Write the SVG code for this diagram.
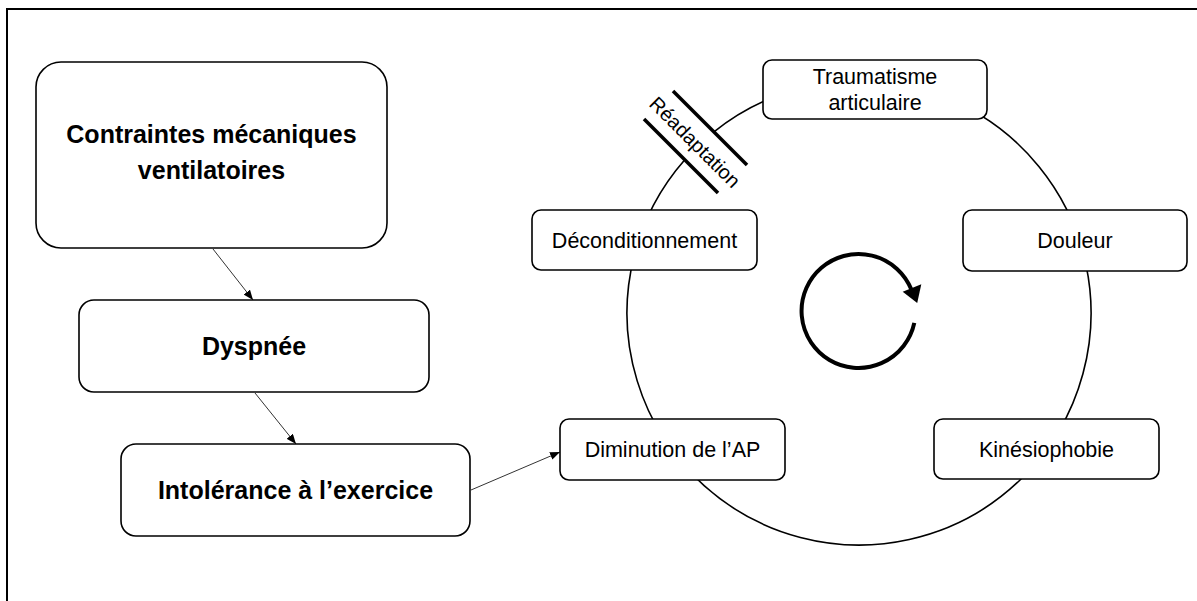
<svg xmlns="http://www.w3.org/2000/svg" width="1197" height="601" viewBox="0 0 1197 601">
<style>
.box{fill:#fff;stroke:#000;stroke-width:1.6}
.lbl{font-family:"Liberation Sans",Arial,sans-serif;font-size:21.5px;fill:#000;text-anchor:middle}
.big{font-family:"Liberation Sans",Arial,sans-serif;font-size:25px;font-weight:bold;fill:#000;text-anchor:middle}
.arr{stroke:#333;stroke-width:1;fill:none;marker-end:url(#ah)}
.cyc{stroke:#000;stroke-width:1.6;fill:none}
.bar{stroke:#000;stroke-width:3.5;stroke-linecap:butt}
</style>
<defs>
<marker id="ah" markerWidth="10" markerHeight="8" refX="10" refY="4" orient="auto" markerUnits="userSpaceOnUse">
<path d="M0,0 L10,4 L0,8 Z" fill="#000"/>
</marker>
</defs>
<rect x="0" y="0" width="1197" height="601" fill="#fff"/>
<path d="M7,601 L7,9 L1197,9" fill="none" stroke="#000" stroke-width="2"/>
<g id="connectors">
<path class="cyc" d="M713.95,131.95 A232,232 0 1 1 684.8,159.8"/>
<line class="arr" x1="213" y1="249" x2="253" y2="300"/>
<line class="arr" x1="255" y1="393" x2="296" y2="444"/>
<line class="arr" x1="471" y1="490" x2="560" y2="452"/>
</g>
<g id="readaptation">
<line class="bar" x1="673" y1="91" x2="747" y2="165"/>
<line class="bar" x1="644" y1="119" x2="718" y2="193"/>
<text class="lbl" style="font-size:20px" transform="translate(690,147) rotate(45)" x="0" y="0">Réadaptation</text>
</g>
<g id="cycle-arrow">
<path d="M914.3,322.9 A57,57 0 1 1 911.4,289.6" fill="none" stroke="#000" stroke-width="4"/>
<polygon points="902.7,291.7 921.3,284.3 917.2,303" fill="#000"/>
</g>
<g id="contraintes">
<rect class="box" x="36" y="62" width="351" height="186" rx="25"/>
<text class="big" x="211.5" y="143">Contraintes mécaniques</text>
<text class="big" x="211.5" y="179">ventilatoires</text>
</g>
<g id="dyspnee">
<rect class="box" x="79" y="300" width="350" height="92" rx="15"/>
<text class="big" x="254" y="355">Dyspnée</text>
</g>
<g id="intolerance">
<rect class="box" x="121" y="444" width="349" height="92" rx="15"/>
<text class="big" x="295.5" y="499">Intolérance à l’exercice</text>
</g>
<g id="traumatisme">
<rect class="box" x="763" y="60" width="224" height="59" rx="9"/>
<text class="lbl" x="875" y="84">Traumatisme</text>
<text class="lbl" x="875" y="110">articulaire</text>
</g>
<g id="deconditionnement">
<rect class="box" x="532" y="210" width="225" height="60" rx="9"/>
<text class="lbl" x="644.5" y="248">Déconditionnement</text>
</g>
<g id="douleur">
<rect class="box" x="963" y="210" width="224" height="61" rx="9"/>
<text class="lbl" x="1075" y="248">Douleur</text>
</g>
<g id="diminution">
<rect class="box" x="560" y="419" width="225" height="61" rx="9"/>
<text class="lbl" x="672.5" y="457">Diminution de l’AP</text>
</g>
<g id="kinesiophobie">
<rect class="box" x="934" y="419" width="225" height="60" rx="9"/>
<text class="lbl" x="1046.5" y="457">Kinésiophobie</text>
</g>
</svg>
